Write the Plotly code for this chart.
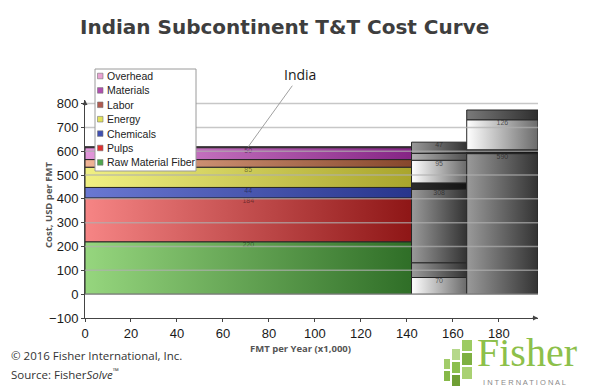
import plotly.graph_objects as go

# ---------------- data ----------------
categories = ["Raw Material Fiber", "Pulps", "Chemicals", "Energy", "Labor", "Materials", "Overhead"]
india_costs = [220, 184, 44, 85, 32, 50, 4]
india_labels = ["220", "184", "44", "85", "", "50", ""]
india_capacity = 142

peer2_costs = [70, 62, 308, 27, 95, 29, 47]
peer2_labels = ["70", "", "308", "", "95", "", "47"]
peer2_shades = ["light", "mid", "mid", "dark", "light", "soft", "mid"]
peer2_capacity = 24

peer3_costs = [590, 16, 126, 41]
peer3_labels = ["590", "", "126", ""]
peer3_shades = ["mid", "dark", "light", "top"]
peer3_capacity = 31

x_ticks = [0, 20, 40, 60, 80, 100, 120, 140, 160, 180]
y_ticks = [-100, 0, 100, 200, 300, 400, 500, 600, 700, 800]

# ---------------- styles ----------------
cat_grad = {
    "Raw Material Fiber": ("#96d67e", "#2f6e27"),
    "Pulps": ("#f68585", "#8e1616"),
    "Chemicals": ("#6a78d2", "#28358c"),
    "Energy": ("#f0f082", "#a9a52c"),
    "Labor": ("#f0b496", "#86472c"),
    "Materials": ("#e296da", "#852585"),
    "Overhead": ("#f2b6e2", "#b8609e"),
}
cat_legend = {
    "Overhead": "#e8a2d2",
    "Materials": "#b04eb0",
    "Labor": "#b05a50",
    "Energy": "#e2e25a",
    "Chemicals": "#3f4fb2",
    "Pulps": "#e03030",
    "Raw Material Fiber": "#4ea64e",
}
shade_grad = {
    "light": ("#ffffff", "#6a6a6a"),
    "mid": ("#9a9a9a", "#333333"),
    "soft": ("#b4b4b4", "#505050"),
    "dark": ("#2c2c2c", "#141414"),
    "top": ("#7a7a7a", "#2e2e2e"),
}

X_MAX = 197
Y_MIN, Y_MAX = -100, 815
L, R, T, B = 85, 51, 100, 72
W, H = 589, 390
PW, PH = W - L - R, H - T - B


def px(xp):
    return (xp - L) / PW


def py(yp):
    return (H - B - yp) / PH


fig = go.Figure()


def add_stack(x0, width, costs, grads, labels, label_color):
    x1 = x0 + width
    base = 0
    tops = []
    for val, (c0, c1) in zip(costs, grads):
        top = base + val
        fig.add_trace(go.Scatter(
            x=[x0, x1, x1, x0, x0], y=[base, base, top, top, base],
            mode="lines", fill="toself",
            fillgradient=dict(type="horizontal", colorscale=[[0, c0], [1, c1]]),
            line=dict(color="#262626", width=1),
            hoverinfo="skip", showlegend=False))
        tops.append(top)
        base = top
    fig.add_trace(go.Scatter(
        x=[(x0 + x1) / 2] * len(tops), y=tops, text=labels,
        mode="text", textposition="bottom center",
        textfont=dict(family="Liberation Sans", size=7, color=label_color),
        hoverinfo="skip", showlegend=False))
    return base


india_total = add_stack(0, india_capacity, india_costs,
                        [cat_grad[c] for c in categories], india_labels,
                        "rgba(0,0,0,0.45)")
add_stack(india_capacity, peer2_capacity, peer2_costs,
          [shade_grad[s] for s in peer2_shades], peer2_labels, "rgba(30,30,30,0.7)")
add_stack(india_capacity + peer2_capacity, peer3_capacity, peer3_costs,
          [shade_grad[s] for s in peer3_shades], peer3_labels, "rgba(30,30,30,0.7)")

shapes = []
# gridlines drawn over the bars
for t in y_ticks:
    if t > Y_MIN:
        shapes.append(dict(type="line", xref="x", yref="y", x0=0, x1=X_MAX, y0=t, y1=t,
                           line=dict(color="rgba(175,175,175,0.7)", width=1.5), layer="above"))

# manual legend
lx0, lx1, ly0, ly1 = 95, 196, 69, 171
shapes.append(dict(type="rect", xref="paper", yref="paper", x0=px(lx0), x1=px(lx1),
                   y0=py(ly1), y1=py(ly0), fillcolor="white",
                   line=dict(color="#9a9a9a", width=1), layer="above"))
annotations = []
legend_order = ["Overhead", "Materials", "Labor", "Energy", "Chemicals", "Pulps", "Raw Material Fiber"]
for i, name in enumerate(legend_order):
    yc = 76 + i * 14.4
    shapes.append(dict(type="rect", xref="paper", yref="paper", x0=px(97.5), x1=px(103),
                       y0=py(yc + 2.8), y1=py(yc - 2.8), fillcolor=cat_legend[name],
                       line=dict(color="#777777", width=0.6), layer="above"))
    annotations.append(dict(xref="paper", yref="paper", x=px(105), y=py(yc), text=name,
                            showarrow=False, xanchor="left", yanchor="middle",
                            font=dict(family="Liberation Sans", size=10.5, color="#222222")))

# Fisher logo mosaic
mosaic = [
    (462, 340, 472, 351, "#9ccb62"), (462, 353, 472, 365, "#7eb041"), (462, 367, 472, 379, "#a9d172"),
    (452, 349, 460, 360, "#b5d88a"), (452, 362, 460, 373, "#8cbf4f"), (452, 375, 460, 386, "#6f9f35"),
    (444, 359, 450, 369, "#a2cc6a"), (444, 371, 450, 381, "#86b848"),
]
for (a, b, c, d, col) in mosaic:
    shapes.append(dict(type="rect", xref="paper", yref="paper", x0=px(a), x1=px(c),
                       y0=py(d), y1=py(b), fillcolor=col, line=dict(width=0), layer="above"))

# axis arrows
annotations.append(dict(x=X_MAX, y=Y_MIN, xref="x", yref="y", ax=-7, ay=0, text="",
                        showarrow=True, arrowhead=2, arrowsize=1, arrowwidth=1, arrowcolor="#444"))
annotations.append(dict(x=0, y=Y_MAX, xref="x", yref="y", ax=0, ay=7, text="",
                        showarrow=True, arrowhead=2, arrowsize=1, arrowwidth=1, arrowcolor="#444"))

# India callout
annotations.append(dict(x=india_capacity / 2, y=india_total, xref="x", yref="y",
                        ax=52, ay=-72, text="India", showarrow=True, arrowhead=0,
                        arrowwidth=1, arrowcolor="#a0a0a0",
                        font=dict(family="Open Sans", size=14, color="#1a1a1a")))

# title
annotations.append(dict(xref="paper", yref="paper", x=px(284), y=py(27),
                        text="<b>Indian Subcontinent T&T Cost Curve</b>", showarrow=False,
                        xanchor="center", yanchor="middle",
                        font=dict(family="DejaVu Sans", size=20, color="#3e3e3e")))
# axis titles
annotations.append(dict(xref="paper", yref="paper", x=px(48), y=py(205),
                        text="<b>Cost, USD per FMT</b>", showarrow=False, textangle=-90,
                        xanchor="center", yanchor="middle",
                        font=dict(family="Open Sans", size=9.5, color="#555555")))
annotations.append(dict(xref="paper", yref="paper", x=px(300), y=py(348),
                        text="<b>FMT per Year (x1,000)</b>", showarrow=False,
                        xanchor="center", yanchor="middle",
                        font=dict(family="Open Sans", size=9.5, color="#555555")))
# footer
annotations.append(dict(xref="paper", yref="paper", x=px(9), y=py(355),
                        text="© 2016 Fisher International, Inc.", showarrow=False,
                        xanchor="left", yanchor="middle",
                        font=dict(family="Open Sans", size=11.5, color="#333333")))
annotations.append(dict(xref="paper", yref="paper", x=px(9), y=py(373),
                        text="Source: Fisher<i>Solve</i><sup>™</sup>", showarrow=False,
                        xanchor="left", yanchor="middle",
                        font=dict(family="Open Sans", size=11.5, color="#333333")))
annotations.append(dict(xref="paper", yref="paper", x=px(527), y=py(352),
                        text="Fisher", showarrow=False, xanchor="center", yanchor="middle",
                        font=dict(family="Liberation Serif", size=40, color="#8dc04a")))
annotations.append(dict(xref="paper", yref="paper", x=px(524), y=py(382),
                        text="I N T E R N A T I O N A L", showarrow=False,
                        xanchor="center", yanchor="middle",
                        font=dict(family="Liberation Sans", size=7.5, color="#8a8a8a")))

fig.update_layout(
    width=W, height=H,
    margin=dict(l=L, r=R, t=T, b=B),
    paper_bgcolor="white", plot_bgcolor="white",
    showlegend=False,
    xaxis=dict(range=[0, X_MAX], tickvals=x_ticks, showgrid=False, zeroline=False,
               showline=True, linecolor="#444444", linewidth=1,
               ticks="outside", ticklen=3, tickcolor="#444444",
               tickfont=dict(family="Liberation Sans", size=13, color="#1a1a1a")),
    yaxis=dict(range=[Y_MIN, Y_MAX], tickvals=y_ticks, showgrid=False, zeroline=False,
               showline=True, linecolor="#444444", linewidth=1,
               ticks="outside", ticklen=3, tickcolor="#444444",
               tickfont=dict(family="Liberation Sans", size=13, color="#1a1a1a")),
    shapes=shapes,
    annotations=annotations,
)

fig.write_html("out.html", config={"displayModeBar": False},
               post_script="document.body.style.margin='0';document.body.style.overflow='hidden';")
